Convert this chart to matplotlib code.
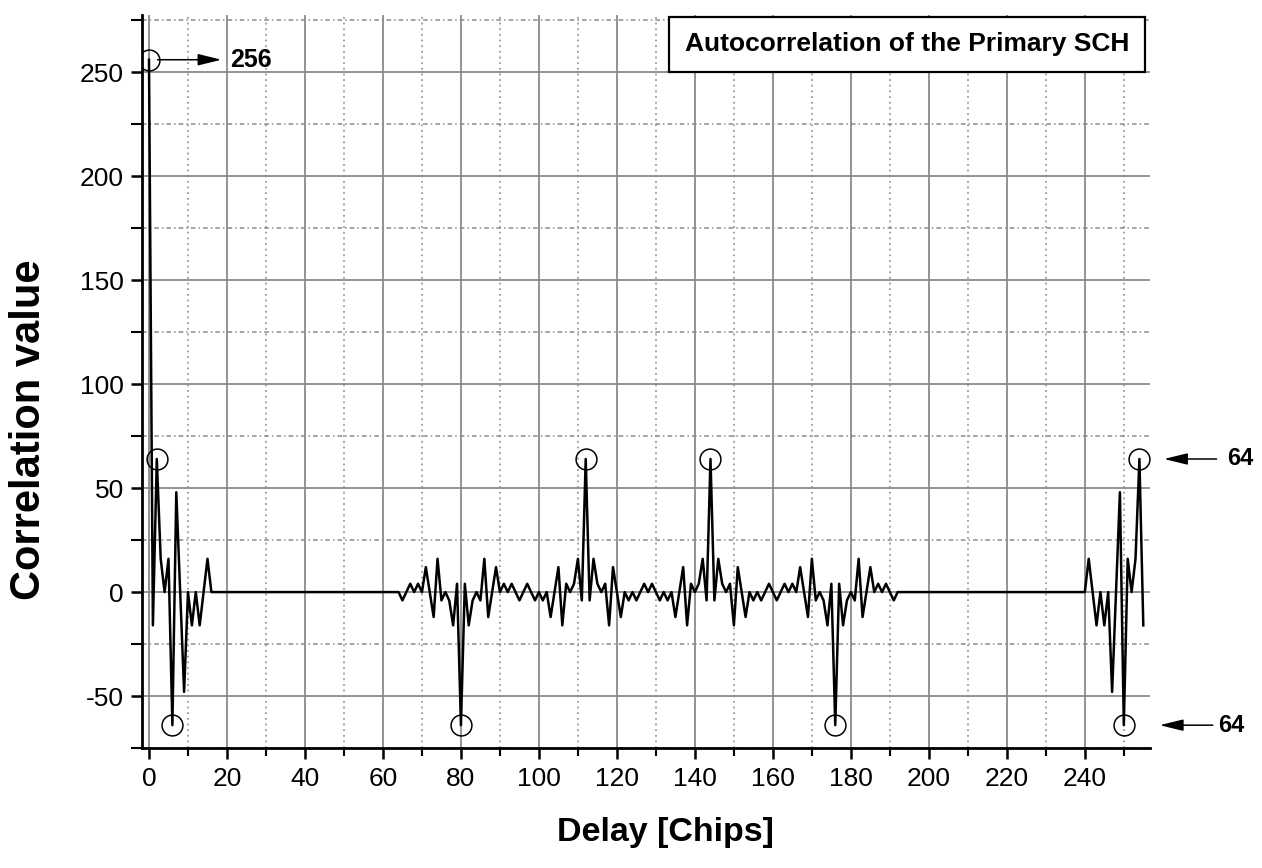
import numpy as np
import matplotlib
matplotlib.use("Agg")
import matplotlib.pyplot as plt
from matplotlib.ticker import MultipleLocator

# Correlation value for each delay in chips (16 delays per row)
corr_values = [
    256, -16, 64, 16, 0, 16, -64, 48, 0, -48, 0, -16, 0, -16, 0, 16,      # 0-15
    0, 0, 0, 0, 0, 0, 0, 0, 0, 0, 0, 0, 0, 0, 0, 0,                       # 16-31
    0, 0, 0, 0, 0, 0, 0, 0, 0, 0, 0, 0, 0, 0, 0, 0,                       # 32-47
    0, 0, 0, 0, 0, 0, 0, 0, 0, 0, 0, 0, 0, 0, 0, 0,                       # 48-63
    0, -4, 0, 4, 0, 4, 0, 12, 0, -12, 16, -4, 0, -4, -16, 4,              # 64-79
    -64, 4, -16, -4, 0, -4, 16, -12, 0, 12, 0, 4, 0, 4, 0, -4,            # 80-95
    0, 4, 0, -4, 0, -4, 0, -12, 0, 12, -16, 4, 0, 4, 16, -4,              # 96-111
    64, -4, 16, 4, 0, 4, -16, 12, 0, -12, 0, -4, 0, -4, 0, 4,             # 112-127
    0, 4, 0, -4, 0, -4, 0, -12, 0, 12, -16, 4, 0, 4, 16, -4,              # 128-143
    64, -4, 16, 4, 0, 4, -16, 12, 0, -12, 0, -4, 0, -4, 0, 4,             # 144-159
    0, -4, 0, 4, 0, 4, 0, 12, 0, -12, 16, -4, 0, -4, -16, 4,              # 160-175
    -64, 4, -16, -4, 0, -4, 16, -12, 0, 12, 0, 4, 0, 4, 0, -4,            # 176-191
    0, 0, 0, 0, 0, 0, 0, 0, 0, 0, 0, 0, 0, 0, 0, 0,                       # 192-207
    0, 0, 0, 0, 0, 0, 0, 0, 0, 0, 0, 0, 0, 0, 0, 0,                       # 208-223
    0, 0, 0, 0, 0, 0, 0, 0, 0, 0, 0, 0, 0, 0, 0, 0,                       # 224-239
    0, 16, 0, -16, 0, -16, 0, -48, 0, 48, -64, 16, 0, 16, 64, -16,        # 240-255
]
delays = np.arange(len(corr_values))

# delays that get a circle marker
marked_delays = [0, 2, 6, 80, 112, 144, 176, 250, 254]
marked_values = [corr_values[d] for d in marked_delays]

title_text = "Autocorrelation of the Primary SCH"
x_label = "Delay [Chips]"
y_label = "Correlation value"

plt.rcParams["font.family"] = ["Liberation Sans", "DejaVu Sans"]
plt.rcParams["axes.unicode_minus"] = False

fig = plt.figure(figsize=(12.62, 8.68), dpi=100)
ax = fig.add_axes([0.1125, 0.1382, 0.7987, 0.8445])

ax.plot(delays, corr_values, color="black", lw=1.8, zorder=3)
ax.plot(marked_delays, marked_values, ls="none", marker="o", ms=15,
        mfc="none", mec="black", mew=1.1, zorder=4)

ax.set_xlim(-1.8, 256.7)
ax.set_ylim(-75, 277.5)

# grid: solid at major ticks, dotted / dash-dot at minor ticks
ax.xaxis.set_major_locator(MultipleLocator(20))
ax.xaxis.set_minor_locator(MultipleLocator(10))
ax.yaxis.set_major_locator(MultipleLocator(50))
ax.yaxis.set_minor_locator(MultipleLocator(25))
ax.grid(which="major", color="#8a8a8a", lw=1.3, ls="-", zorder=0)
ax.grid(which="minor", axis="x", color="#8a8a8a", lw=1.1, ls=(0, (1.2, 2.5)), zorder=0)
ax.grid(which="minor", axis="y", color="#8a8a8a", lw=1.1, ls=(0, (3, 2, 1, 2)), zorder=0)

for side in ["top", "right"]:
    ax.spines[side].set_visible(False)
for side in ["left", "bottom"]:
    ax.spines[side].set_linewidth(2)

ax.tick_params(axis="both", which="major", direction="out", width=1.8,
               length=8, labelsize=19)
ax.tick_params(axis="y", which="major", pad=5)
ax.tick_params(axis="x", which="major", pad=6)
ax.tick_params(axis="x", which="minor", direction="out", width=1.5, length=6)
ax.tick_params(axis="y", which="minor", direction="out", width=1.5, length=8)

# axis titles placed where they sit in the original
fig.text(665 / 1262, 1 - 833 / 868, x_label, fontsize=24.5, fontweight="bold",
         ha="center", va="center")
fig.text(29 / 1262, 1 - 430 / 868, y_label, fontsize=30, fontweight="bold",
         rotation=90, ha="center", va="center")

# boxed caption at the top right
ax.text(0.759, 0.960, title_text, transform=ax.transAxes, ha="center", va="center",
        fontsize=19, fontweight="bold",
        bbox=dict(boxstyle="square,pad=0.6", fc="white", ec="black", lw=1.6), zorder=5)

arrow = dict(arrowstyle="-|>,head_length=0.9,head_width=0.22", color="black",
             lw=1.1, shrinkA=0, shrinkB=0, mutation_scale=16)

# 256 label next to the main peak
ax.annotate("", xy=(18.6, 256), xytext=(2.2, 256), arrowprops=arrow,
            annotation_clip=False)
ax.text(20.8, 256, "256", fontsize=18, fontweight="bold", ha="left", va="center",
        clip_on=False)

# 64 labels outside the right edge
ax.annotate("", xy=(260.3, 64), xytext=(273.8, 64), arrowprops=arrow,
            annotation_clip=False)
ax.text(276.4, 64, "64", fontsize=17, fontweight="bold", ha="left", va="center",
        clip_on=False)
ax.annotate("", xy=(259.2, -64), xytext=(272.8, -64), arrowprops=arrow,
            annotation_clip=False)
ax.text(274.1, -64, "64", fontsize=17, fontweight="bold", ha="left", va="center",
        clip_on=False)

fig.savefig("out.png", dpi=100)
